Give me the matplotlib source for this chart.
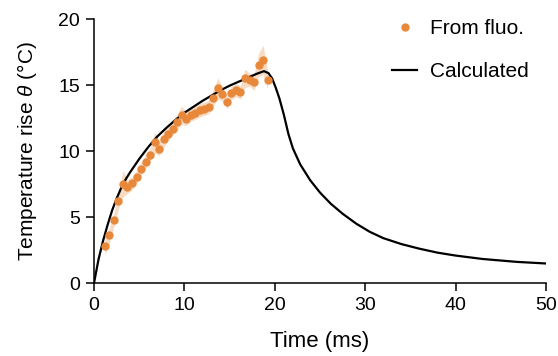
import matplotlib.pyplot as plt
import numpy as np

plt.rcParams['font.family'] = ['Liberation Sans', 'DejaVu Sans']
plt.rcParams['mathtext.fontset'] = 'custom'
plt.rcParams['mathtext.it'] = 'Liberation Sans:italic'
plt.rcParams['mathtext.rm'] = 'Liberation Sans'

# measured (fluorescence) points
t_fluo = [1.2, 1.7, 2.2, 2.7, 3.2, 3.7, 4.2, 4.7, 5.2, 5.7, 6.2, 6.7, 7.2, 7.7,
          8.2, 8.7, 9.2, 9.7, 10.2, 10.7, 11.2, 11.7, 12.2, 12.7, 13.2, 13.7,
          14.2, 14.7, 15.2, 15.7, 16.2, 16.7, 17.2, 17.7, 18.2, 18.7, 19.2]
y_fluo = [2.8, 3.6, 4.8, 6.2, 7.5, 7.3, 7.55, 8.0, 8.65, 9.2, 9.7, 10.65, 10.15, 10.9,
          11.3, 11.7, 12.2, 12.7, 12.45, 12.75, 12.9, 13.1, 13.2, 13.35, 14.05, 14.75,
          14.3, 13.7, 14.4, 14.6, 14.45, 15.5, 15.4, 15.2, 16.5, 16.9, 15.4]
err_fluo = [0.7, 0.6, 0.5, 0.6, 1.0, 0.5, 0.5, 0.5, 0.5, 0.5, 0.5, 0.8, 0.5, 0.6,
            0.5, 0.5, 0.6, 0.7, 0.5, 0.5, 0.5, 0.5, 0.5, 0.5, 0.6, 0.8,
            0.5, 0.5, 0.5, 0.5, 0.5, 0.7, 0.5, 0.6, 0.9, 1.1, 0.7]

# calculated curve
t_calc = [0, 0.5, 1, 1.5, 2, 2.5, 3, 3.5, 4, 5, 6, 7, 8, 9, 10, 11, 12, 13, 14,
          15, 16, 17, 18, 18.8, 19.3, 19.7, 20.1, 20.5, 21, 21.5, 22, 22.8, 23.9,
          25, 26.2, 27.5, 29, 30.5, 32, 34, 36, 38, 40, 43, 46.8, 50]
y_calc = [0, 1.8, 3.2, 4.4, 5.5, 6.4, 7.2, 7.85, 8.4, 9.4, 10.3, 11.1, 11.75, 12.35,
          12.9, 13.35, 13.8, 14.2, 14.6, 14.95, 15.25, 15.55, 15.85, 16.05, 15.9,
          15.5, 14.8, 14.0, 12.75, 11.3, 10.2, 9.0, 7.8, 6.85, 6.0, 5.25, 4.5, 3.88,
          3.4, 2.95, 2.6, 2.3, 2.08, 1.82, 1.6, 1.48]

orange = '#E8883A'

fig = plt.figure(figsize=(5.58, 3.56), dpi=100)
ax = fig.add_axes([0.1685, 0.205, 0.81, 0.7416])

t_f = np.array(t_fluo)
y_f = np.array(y_fluo)
e_f = np.array(err_fluo)
ax.fill_between(t_f, y_f - e_f, y_f + e_f, color=orange, alpha=0.3, linewidth=0)
ax.plot(t_fluo, y_fluo, 'o', color=orange, markersize=5, label='From fluo.', zorder=3)
ax.plot(t_calc, y_calc, color='black', linewidth=1.6, label='Calculated', zorder=2,
        solid_joinstyle='round')

ax.set_xlim(0, 50)
ax.set_ylim(0, 20)
ax.set_xticks([0, 10, 20, 30, 40, 50])
ax.set_yticks([0, 5, 10, 15, 20])
ax.spines['top'].set_visible(False)
ax.spines['right'].set_visible(False)
for s in ['left', 'bottom']:
    ax.spines[s].set_linewidth(1.1)
ax.tick_params(axis='both', labelsize=14, length=6, width=1.1, pad=4)
ax.set_xlabel('Time (ms)', fontsize=16, labelpad=12)
ax.set_ylabel(r'Temperature rise $\theta$ (°C)', fontsize=15, labelpad=14)

ax.legend(loc='upper right', frameon=False, fontsize=15, handlelength=1.2,
          handletextpad=0.6, labelspacing=1.15, borderaxespad=0.0,
          bbox_to_anchor=(0.98, 1.03))

plt.savefig('out.png', dpi=100)
